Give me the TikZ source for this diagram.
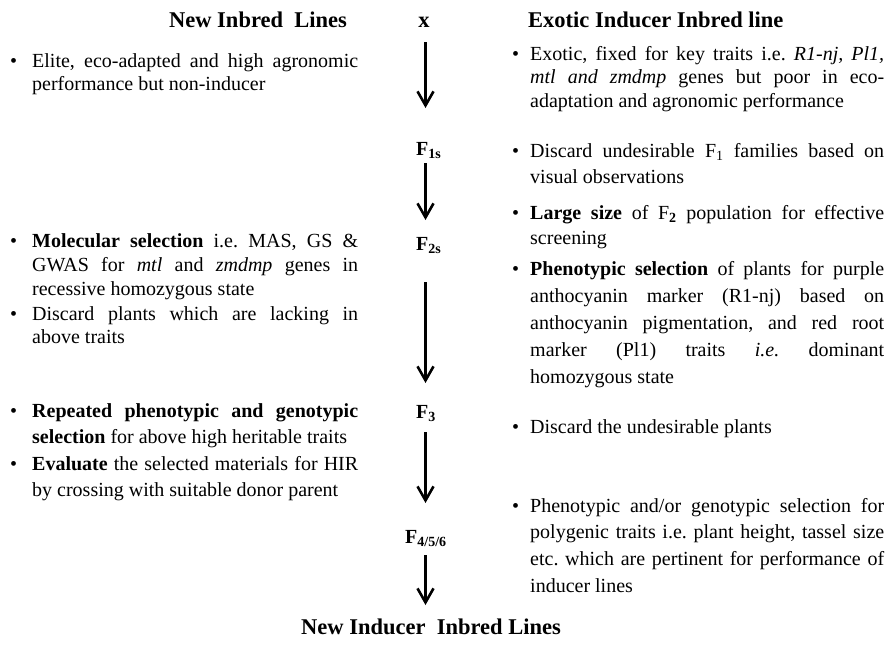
\documentclass[tikz,border=0pt]{standalone}
\usepackage{fontspec}
\setmainfont{Liberation Serif}
\usetikzlibrary{arrows.meta}
\tolerance=9999 \hyphenpenalty=10000 \exhyphenpenalty=10000 \emergencystretch=2em
\frenchspacing
\begin{document}
\begin{tikzpicture}[x=1pt,y=-1pt,
  bul/.style={anchor=base west, inner sep=0pt, font=\fontsize{20}{24}\selectfont},
  lbody/.style={anchor=base west, inner sep=0pt, align=justify, text width=326pt},
  rbody/.style={anchor=base west, inner sep=0pt, align=justify, text width=354pt},
  head/.style={inner sep=0pt, font=\fontsize{22.5}{27}\selectfont\bfseries},
  stage/.style={anchor=base west, inner sep=0pt, font=\fontsize{20}{24}\selectfont\bfseries},
  arr/.style={line width=2.6pt, -{Straight Barb[length=14pt,width=16pt]}}
]
\useasboundingbox (0,0) rectangle (891,646);

% headings
\node[head, anchor=base] (hl) at (258,27) {New Inbred\ \ Lines};
\node[head, anchor=base west] (hr) at (528,27) {Exotic Inducer Inbred line};
\node[head, anchor=base] (sx) at (424,27) {x};

% left column
\node[bul] (lb1) at (10,67) {\textbullet};
\node[lbody, font=\fontsize{20}{23}\selectfont] (l1) at (32,67)
  {Elite, eco-adapted and high agronomic\linebreak performance but non-inducer};
\node[bul] (lb2) at (10,247) {\textbullet};
\node[lbody, font=\fontsize{20}{24}\selectfont] (l2) at (32,247)
  {\textbf{Molecular selection} i.e. MAS, GS \&\linebreak GWAS for \textit{mtl} and \textit{zmdmp} genes in\linebreak recessive homozygous state};
\node[bul] (lb3) at (10,320) {\textbullet};
\node[lbody, font=\fontsize{20}{23.5}\selectfont] (l3) at (32,320)
  {Discard plants which are lacking in\linebreak above traits};
\node[bul] (lb4) at (10,417) {\textbullet};
\node[lbody, font=\fontsize{20}{26.5}\selectfont] (l4) at (32,417)
  {\textbf{Repeated phenotypic and genotypic}\linebreak \textbf{selection} for above high heritable traits};
\node[bul] (lb5) at (10,470) {\textbullet};
\node[lbody, font=\fontsize{20}{26.5}\selectfont] (l5) at (32,470)
  {\textbf{Evaluate} the selected materials for HIR\linebreak by crossing with suitable donor parent};

% right column
\node[bul] (rb1) at (512,60) {\textbullet};
\node[rbody, font=\fontsize{20}{23.5}\selectfont] (r1) at (530,60)
  {Exotic, fixed for key traits i.e. \textit{R1-nj, Pl1,}\linebreak \textit{mtl and zmdmp} genes but poor in eco-\linebreak adaptation and agronomic performance};
\node[bul] (rb2) at (512,157) {\textbullet};
\node[rbody, font=\fontsize{20}{26.7}\selectfont] (r2) at (530,157)
  {Discard undesirable F\textsubscript{1} families based on\linebreak visual observations};
\node[bul] (rb3) at (512,219) {\textbullet};
\node[rbody, font=\fontsize{20}{25.5}\selectfont] (r3) at (530,219)
  {\textbf{Large size} of F\textsubscript{\textbf{2}} population for effective\linebreak screening};
\node[bul] (rb4) at (512,275) {\textbullet};
\node[rbody, font=\fontsize{20}{27}\selectfont] (r4) at (530,275)
  {\textbf{Phenotypic selection} of plants for purple\linebreak anthocyanin marker (R1-nj) based on\linebreak anthocyanin pigmentation, and red root\linebreak marker (Pl1) traits \textit{i.e.} dominant\linebreak homozygous state};
\node[bul] (rb5) at (512,433) {\textbullet};
\node[rbody, font=\fontsize{20}{26.7}\selectfont] (r5) at (530,433)
  {Discard the undesirable plants};
\node[bul] (rb6) at (512,512) {\textbullet};
\node[rbody, font=\fontsize{20}{26.7}\selectfont] (r6) at (530,512)
  {Phenotypic and/or genotypic selection for\linebreak polygenic traits i.e. plant height, tassel size\linebreak etc. which are pertinent for performance of\linebreak inducer lines};

% stages
\node[stage] (s1) at (416,155) {F\textsubscript{1s}};
\node[stage] (s2) at (416,250) {F\textsubscript{2s}};
\node[stage] (s3) at (416,418) {F\textsubscript{3}};
\node[stage] (s4) at (405,543) {F\textsubscript{4/5/6}};
\node[head, anchor=base] (fin) at (431,634) {New Inducer\ \ Inbred Lines};

% arrows
\coordinate (axis) at (425.5,0);
\draw[arr, shorten <=15pt, shorten >=47pt] (sx.base -| axis) -- (s1.base -| axis);
\draw[arr, shorten <=8pt, shorten >=30pt] (s1.base -| axis) -- (s2.base -| axis);
\draw[arr, shorten <=32pt, shorten >=35pt] (s2.base -| axis) -- (s3.base -| axis);
\draw[arr, shorten <=14pt, shorten >=40pt] (s3.base -| axis) -- (s4.base -| axis);
\draw[arr, shorten <=12pt, shorten >=29pt] (s4.base -| axis) -- (fin.base -| axis);
\end{tikzpicture}
\end{document}
